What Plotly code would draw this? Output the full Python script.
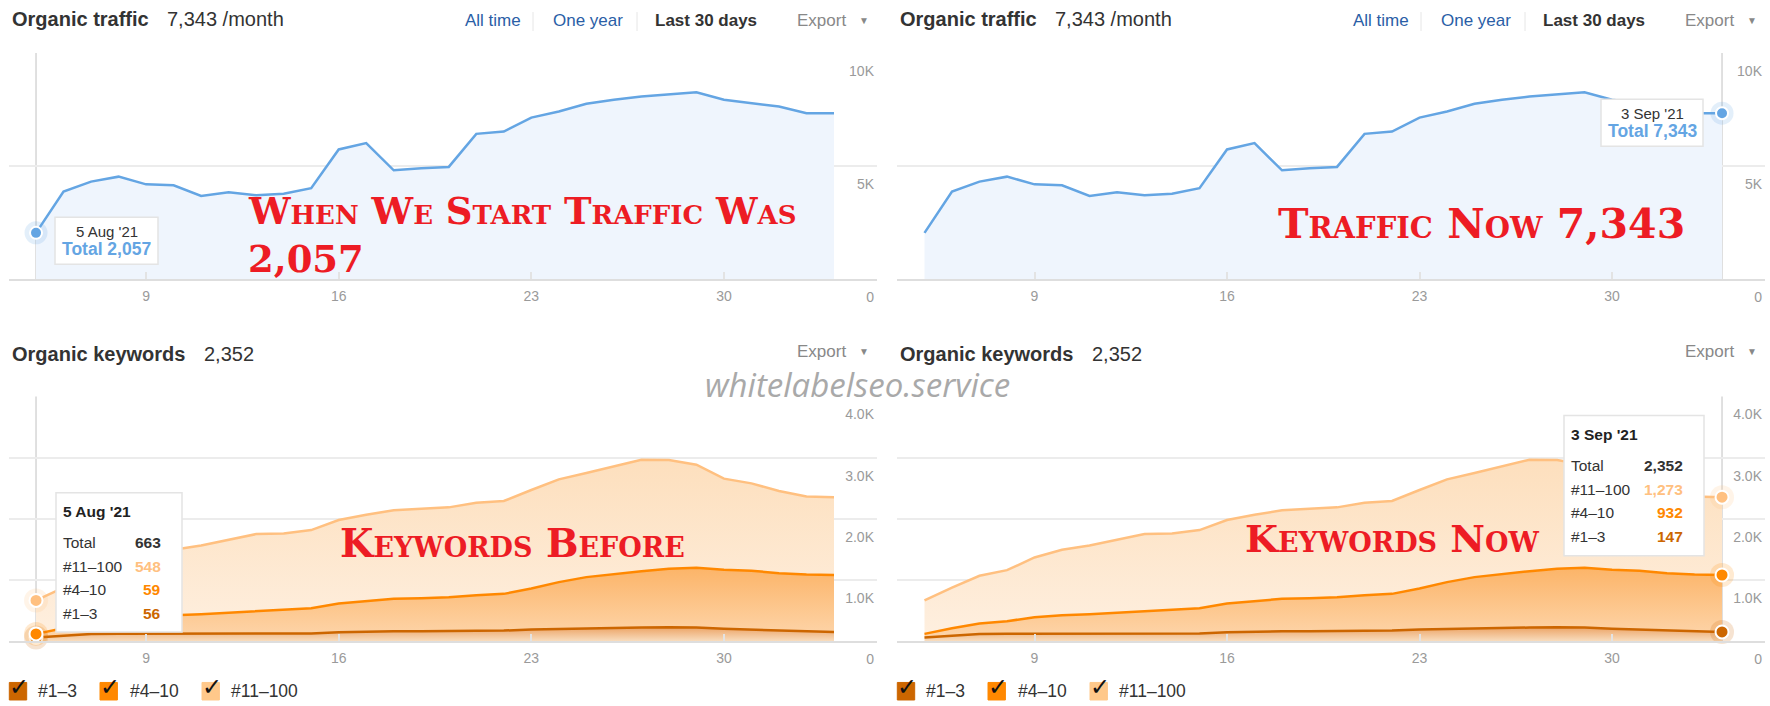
import pandas as pd
import plotly.graph_objects as go

W, H = 1770, 706        # size of the reference picture
FIG_H = 733             # page height that ends up as the 706 px picture

# daily points, 5 Aug 2021 .. 3 Sep 2021
dates = pd.date_range("2021-08-05", "2021-09-03", freq="D").strftime("%Y-%m-%d").tolist()

traffic = [2057, 3880, 4320, 4540, 4200, 4160, 3690, 3850, 3720, 3780,
           4030, 5740, 6020, 4820, 4910, 4970, 6430, 6530, 7150, 7420,
           7760, 7940, 8080, 8190, 8270, 7940, 7790, 7640, 7340, 7343]

kw_1_3 = [56, 90, 112, 118, 120, 120, 120, 120, 120, 120,
          122, 142, 153, 158, 160, 164, 164, 169, 186, 197,
          202, 208, 219, 224, 219, 197, 186, 169, 160, 147]
kw_4_10 = [59, 118, 172, 204, 268, 301, 317, 339, 366, 383,
           414, 470, 497, 531, 539, 552, 585, 601, 672, 765,
           842, 890, 923, 956, 978, 967, 962, 940, 927, 932]
kw_11_100 = [548, 666, 782, 836, 978, 1071, 1126, 1197, 1263, 1257,
             1278, 1366, 1416, 1448, 1465, 1470, 1513, 1520, 1612, 1683,
             1705, 1754, 1825, 1782, 1688, 1492, 1431, 1345, 1279, 1273]

kw_names = ["#1–3", "#4–10", "#11–100"]
kw_lines = ["#cc6600", "#ff8800", "#ffc080"]
kw_boxes = ["#cc6600", "#ff8800", "#ffc88a"]
kw_grads = [
    [[0, "#f8dcbd"], [1, "#eca466"]],
    [[0, "#fdd5aa"], [1, "#fcb468"]],
    [[0, "#feefdf"], [1, "#fddfbd"]],
]

traffic_ticks = [0, 5000, 10000]
traffic_ticktext = ["0", "5K", "10K"]
kw_ticks = [0, 1000, 2000, 3000, 4000]
kw_ticktext = ["0", "1.0K", "2.0K", "3.0K", "4.0K"]

SANS = "Liberation Sans, Arial, sans-serif"
GREY = "#9a9a9a"
BLUE = "#64a5e3"


def px(x):
    return x / W


def py(y):
    return 1 - y / H


fig = go.Figure()

# traffic areas
for xa, ya in [("x", "y"), ("x2", "y2")]:
    fig.add_trace(go.Scatter(
        x=dates, y=traffic, mode="lines", line=dict(color=BLUE, width=2.5),
        fill="tozeroy", fillcolor="#eff5fd", xaxis=xa, yaxis=ya,
        hoverinfo="skip", showlegend=False,
    ))

# keyword stacked areas
kw_series = [kw_1_3, kw_4_10, kw_11_100]
for xa, ya in [("x3", "y3"), ("x4", "y4")]:
    for name, vals, col, grad in zip(kw_names, kw_series, kw_lines, kw_grads):
        fig.add_trace(go.Scatter(
            x=dates, y=vals, name=name, mode="lines", stackgroup="kw" + xa,
            line=dict(color=col, width=2.5),
            fillgradient=dict(type="vertical", colorscale=grad),
            xaxis=xa, yaxis=ya, hoverinfo="skip", showlegend=False,
        ))


def dot(xa, ya, x, y, color, size=13):
    fig.add_trace(go.Scatter(
        x=[x], y=[y], mode="markers", xaxis=xa, yaxis=ya,
        marker=dict(size=size + 11, color=color, opacity=0.18),
        hoverinfo="skip", showlegend=False, cliponaxis=False,
    ))
    fig.add_trace(go.Scatter(
        x=[x], y=[y], mode="markers", xaxis=xa, yaxis=ya,
        marker=dict(size=size, color=color, line=dict(color="white", width=2)),
        hoverinfo="skip", showlegend=False, cliponaxis=False,
    ))


# hovered points: first day on the left, last day on the right
for xa, ya, i in [("x", "y", 0), ("x2", "y2", -1)]:
    dot(xa, ya, dates[i], traffic[i], BLUE, 12)
for xa, ya, i in [("x3", "y3", 0), ("x4", "y4", -1)]:
    cum = 0
    for vals, col in zip(kw_series, kw_lines):
        cum += vals[i]
        dot(xa, ya, dates[i], cum, col)

xrange_ = ["2021-08-04 00:00", "2021-09-04 13:30"]
dom_left = [px(8.5), px(877)]
dom_right = [px(897), px(1765)]
dom_traffic = [py(279), py(53)]
dom_kw = [py(640), py(396)]


def xaxis(dom, anchor):
    return dict(
        domain=dom, anchor=anchor, type="date", range=xrange_,
        tickmode="array", tickvals=dates[4::7], tickformat="%-d",
        ticks="inside", ticklen=7, tickwidth=1.5, tickcolor="#e3e3e3",
        ticklabelstandoff=3,
        showline=True, linecolor="#dedede", linewidth=2, showgrid=False,
        tickfont=dict(size=14, color=GREY, family=SANS), fixedrange=True,
    )


def yaxis(dom, anchor, rng, vals, text):
    return dict(
        domain=dom, anchor=anchor, side="right", range=rng,
        tickmode="array", tickvals=vals, ticktext=text,
        ticklabelposition="inside", ticklabelshift=18, ticklabeloverflow="allow",
        showgrid=True, gridcolor="#ececec", gridwidth=1.5, zeroline=False,
        tickfont=dict(size=14, color=GREY, family=SANS), fixedrange=True,
    )


fig.update_layout(
    width=W, height=FIG_H, margin=dict(l=0, r=0, t=0, b=0),
    paper_bgcolor="white", plot_bgcolor="rgba(0,0,0,0)", showlegend=False,
    font=dict(family=SANS, color="#333"),
    xaxis=xaxis(dom_left, "y"), yaxis=yaxis(dom_traffic, "x", [0, 10000], traffic_ticks, traffic_ticktext),
    xaxis2=xaxis(dom_right, "y2"), yaxis2=yaxis(dom_traffic, "x2", [0, 10000], traffic_ticks, traffic_ticktext),
    xaxis3=xaxis(dom_left, "y3"), yaxis3=yaxis(dom_kw, "x3", [0, 4000], kw_ticks, kw_ticktext),
    xaxis4=xaxis(dom_right, "y4"), yaxis4=yaxis(dom_kw, "x4", [0, 4000], kw_ticks, kw_ticktext),
)

shapes = []
notes = []


def label(x, y, text, size=17, color="#333", weight="normal", xanchor="left", family=SANS, **kw):
    notes.append(dict(
        x=px(x), y=py(y), xref="paper", yref="paper", text=text, showarrow=False,
        xanchor=xanchor, yanchor="middle",
        font=dict(size=size, color=color, family=family, weight=weight), **kw,
    ))


def rect(x0, y0, x1, y1, fill="white", line="#e4e4e4", width=1.5):
    shapes.append(dict(
        type="rect", xref="paper", yref="paper", layer="above",
        x0=px(x0), x1=px(x1), y0=py(y1), y1=py(y0),
        fillcolor=fill, line=dict(color=line, width=width),
    ))


def vline(x, y0, y1, color="#e6e6e6", width=1):
    shapes.append(dict(
        type="line", xref="paper", yref="paper", layer="above",
        x0=px(x), x1=px(x), y0=py(y0), y1=py(y1), line=dict(color=color, width=width),
    ))


total_kw = [a + b + c for a, b, c in zip(kw_1_3, kw_4_10, kw_11_100)]

for ox in [0, 888]:
    # traffic header
    label(9.6 + ox, 19, "Organic traffic", 20, "#333", "bold")
    label(165 + ox, 19, f"{traffic[-1]:,} /month", 20, "#333")
    label(463 + ox, 20, "All time", 17, "#2a5ea6")
    vline(533 + ox, 12, 31)
    label(551 + ox, 20, "One year", 17, "#2a5ea6")
    vline(637 + ox, 12, 31)
    label(653 + ox, 20, "Last 30 days", 17, "#333", "bold")
    label(795 + ox, 20, "Export", 17, "#888")
    label(857 + ox, 20, "▼", 10, "#888")
    # keywords header
    label(9.6 + ox, 353, "Organic keywords", 20, "#333", "bold")
    label(202 + ox, 353, f"{total_kw[-1]:,}", 20, "#333")
    label(795 + ox, 351, "Export", 17, "#888")
    label(857 + ox, 351, "▼", 10, "#888")
    # legend with checkboxes
    for bx, tx, name, col in zip([9.3, 100, 202], [36, 127.7, 228.7], kw_names, kw_boxes):
        rect(bx + ox, 681.5, bx + 17.4 + ox, 699, fill=col, line=col, width=1)
        label(bx + 9.5 + ox, 686.5, "✓", 24, "#111", "bold", xanchor="center", family="DejaVu Sans")
        label(tx + ox, 690, name, 17.5, "#333")

# crosshairs on the hovered day
for xa, ya, i in [("x", "y", 0), ("x2", "y2", -1), ("x3", "y3", 0), ("x4", "y4", -1)]:
    shapes.append(dict(type="line", xref=xa, yref=ya + " domain",
                       x0=dates[i], x1=dates[i], y0=0, y1=1, layer="below",
                       line=dict(color="#d6d6d6", width=1.5)))


def day_label(i):
    return pd.Timestamp(dates[i]).strftime("%-d %b '%y")


# traffic tooltips
for (x0, y0, x1, y1), i in [((55, 217, 158, 264), 0), ((1601, 99, 1703, 146), -1)]:
    rect(x0, y0, x1, y1)
    cx = (x0 + x1) / 2
    label(cx, y0 + 14, day_label(i), 15, "#333", xanchor="center")
    label(cx, y0 + 32, f"Total {traffic[i]:,}", 17.5, BLUE, "bold", xanchor="center")

# keyword tooltips
for (x0, y0, x1, y1), i in [((56, 492, 182, 631), 0), ((1564, 415, 1704, 555), -1)]:
    rect(x0, y0, x1, y1)
    label(x0 + 5, y0 + 19, day_label(i), 15.5, "#222", "bold")
    rows = [("Total", total_kw[i], "#333"),
            (kw_names[2], kw_11_100[i], "#ffc080"),
            (kw_names[1], kw_4_10[i], "#ff8800"),
            (kw_names[0], kw_1_3[i], "#cc6600")]
    for r, (name, val, col) in enumerate(rows):
        yy = y0 + 50 + r * 23.5
        label(x0 + 5, yy, name, 15.5, "#333")
        label(x1 - 19, yy, f"{val:,}", 15.5, col, "bold", xanchor="right")

# red call-outs
RED = dict(family="DejaVu Serif", color="#ed1c24", weight="bold", variant="small-caps")
for x, y, text, size in [
    (246, 211, "When We Start Traffic Was", 37),
    (246, 259, f"{traffic[0]:,}", 37),
    (1276, 224, f"Traffic Now {traffic[-1]:,}", 41),
    (338, 543, "Keywords Before", 38.5),
    (1243, 538, "Keywords Now", 38),
]:
    notes.append(dict(x=px(x), y=py(y), xref="paper", yref="paper", text=text,
                      showarrow=False, xanchor="left", yanchor="middle", align="left",
                      font=dict(size=size, **RED)))

# watermark
label(857, 384, "whitelabelseo.service", 33, "#a9a9a9", xanchor="center", family="Open Sans")
notes[-1]["font"]["style"] = "italic"

fig.update_layout(shapes=shapes, annotations=notes)
fig.write_html("out.html", config={"displayModeBar": False},
               post_script="document.body.style.margin = '0';")
